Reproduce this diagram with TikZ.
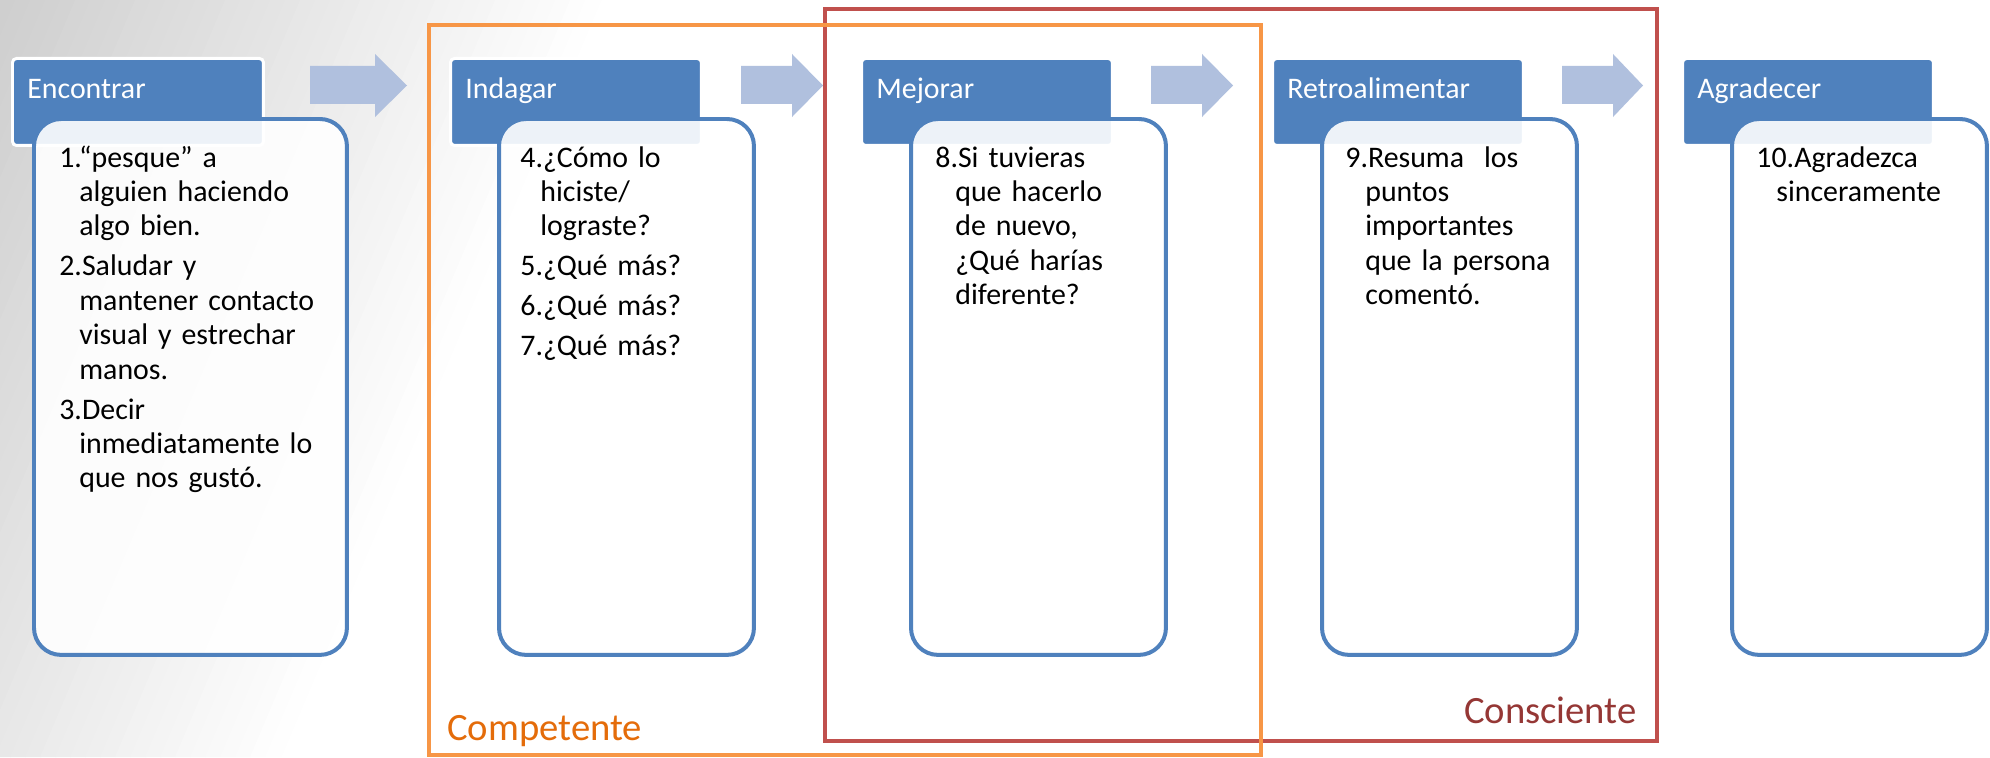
\documentclass[tikz,border=0pt]{standalone}
\usepackage{fontspec}
\setmainfont{Carlito}
\usetikzlibrary{
	calc        % posiciones relativas a las cabeceras
}

\definecolor{azul}{RGB}{79,129,189}
\definecolor{azulclaro}{RGB}{176,192,222}
\definecolor{naranja}{RGB}{247,150,70}
\definecolor{naranjaosc}{RGB}{228,108,10}
\definecolor{rojo}{RGB}{192,80,77}
\definecolor{rojoosc}{RGB}{149,55,53}

% un punto numerado con sangria francesa
\newcommand{\punto}[1]{\rightskip=0pt plus 1fil\parfillskip=0pt plus 1fil
	\hangindent=0.4cm\hangafter=1 #1\par\vspace{0.11cm}}

\begin{document}
\begin{tikzpicture}[
	x=0.02cm, y=-0.02cm,
	cabecera/.style={draw=white, line width=0.06cm, fill=azul, rounded corners=0.08cm,
		minimum width=5.02cm, minimum height=1.74cm, anchor=north west, inner sep=0},
	titulo/.style={text=white, font=\fontsize{17}{19}\selectfont, anchor=base west, inner sep=0},
	cuerpo/.style={draw=azul, line width=0.08cm, fill=white, fill opacity=0.9,
		rounded corners=0.54cm, minimum height=10.72cm, anchor=north west, inner sep=0},
	texto/.style={font=\fontsize{17}{19.6}\selectfont, text width=4.6cm,
		anchor=base west, inner sep=0},
	flecha/.style={fill=azulclaro},
	grupo/.style={line width=0.07cm},
	etiqueta/.style={font=\fontsize{22}{26}\selectfont, inner sep=0}
	]

	% --- Fondo (degradado gris en diagonal) ---
	\useasboundingbox (0,0) rectangle (1990,757);
	\fill[white] (0,0) rectangle (1990,757);
	\foreach \i in {0,...,39} {
		\pgfmathsetmacro\xa{\i*15}
		\pgfmathsetmacro\xb{\xa+16}
		\pgfmathsetmacro\gris{19*(1-\i/40)}
		\fill[black!\gris] (\xa,0) -- (\xb,0) -- (\xb-320,757) -- (\xa-320,757) -- cycle;
	}

	% --- Flechas entre pasos ---
	\foreach \xa/\xb/\xc in {310/375/407, 741/792/823, 1151/1202/1233, 1562/1613/1643}
		\fill[flecha] (\xa,66) -- (\xb,66) -- (\xb,54) -- (\xc,85.5) -- (\xb,117)
			-- (\xb,104) -- (\xa,104) -- cycle;

	% --- Pasos: cabecera, titulo y cuerpo ---
	\foreach \i/\hx/\bx/\bw/\nombre in {1/11/32/6.26/Encontrar, 2/449/497/5.1/Indagar,
		3/860/909/5.1/Mejorar, 4/1271/1320/5.1/Retroalimentar, 5/1681/1730/5.1/Agradecer} {
		\node[cabecera] (h\i) at (\hx,57) {};
		\node[titulo] (t\i) at ($(h\i.north west)+(16,41)$) {\nombre};
		\node[cuerpo, minimum width=\bw cm] (b\i) at (\bx,117) {};
	}

	% --- Textos de los cuerpos ---
	\node[texto, text width=5.6cm] (x1) at (59,167) {%
		\punto{1.“pesque” a\newline alguien haciendo\newline algo bien.}%
		\punto{2.Saludar y\newline mantener contacto\newline visual y estrechar\newline manos.}%
		\punto{3.Decir\newline inmediatamente lo\newline que nos gustó.}};
	\node[texto] (x2) at (520,167) {%
		\punto{4.¿Cómo lo\newline hiciste/\newline lograste?}%
		\punto{5.¿Qué más?}%
		\punto{6.¿Qué más?}%
		\punto{7.¿Qué más?}};
	\node[texto] (x3) at (935,167) {%
		\punto{8.Si tuvieras\newline que hacerlo\newline de nuevo,\newline ¿Qué harías\newline diferente?}};
	\node[texto] (x4) at (1345,167) {%
		\punto{9.Resuma~ los\newline puntos\newline importantes\newline que la persona\newline comentó.}};
	\node[texto] (x5) at (1756,167) {%
		\punto{10.Agradezca\newline sinceramente}};

	% --- Grupos ---
	\draw[grupo, rojo] (825,9) rectangle (1657,741);
	\draw[grupo, naranja] (429,25) rectangle (1261,755);
	\node[etiqueta, text=naranjaosc, anchor=base west] (competente) at (447,740) {Competente};
	\node[etiqueta, text=rojoosc, anchor=base east] (consciente) at (1637,723) {Consciente};

\end{tikzpicture}
\end{document}
